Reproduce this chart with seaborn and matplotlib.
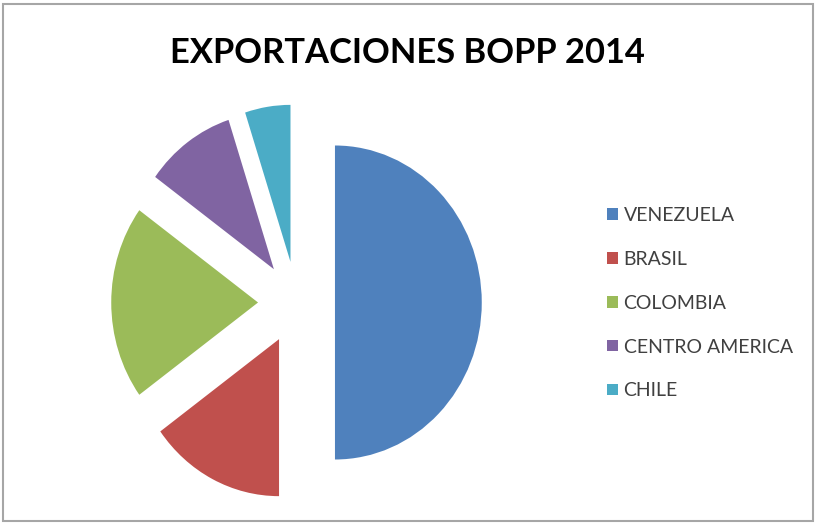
import matplotlib
matplotlib.use("Agg")
import matplotlib.pyplot as plt
import seaborn as sns
from matplotlib.patches import Rectangle

categories = ["VENEZUELA", "BRASIL", "COLOMBIA", "CENTRO AMERICA", "CHILE"]
values = [50, 15, 20, 10, 5]
colors = ["#4F81BD", "#C0504D", "#9BBB59", "#8064A2", "#4BACC6"]
title = "EXPORTACIONES BOPP 2014"

sns.set_theme(style="white")
plt.rcParams["font.family"] = ["Lato", "DejaVu Sans"]

W, H = 816, 525
fig = plt.figure(figsize=(W / 100, H / 100), dpi=100)
fig.patch.set_facecolor("white")

ax = fig.add_axes([0, 0, 1, 1])
xscale = 0.935
cx_px, cy_px, r = 296.5, 302.5, 157
palette = sns.color_palette(colors)
wedges, _ = ax.pie(values, colors=palette, startangle=90, counterclock=False,
                   explode=[0.262 * r] * len(values), radius=r,
                   center=(cx_px / xscale, H - cy_px),
                   wedgeprops=dict(linewidth=0))
ax.set_aspect("auto")
ax.set_xlim(0, W / xscale)
ax.set_ylim(0, H)
ax.axis("off")

fig.text(407.5 / W, 1 - 63 / H, title, ha="center", va="baseline",
         fontsize=24.8, fontweight="bold", color="black")

leg = fig.legend(wedges, categories, loc="upper left",
                 bbox_to_anchor=(607 / W, 1 - 207 / H), frameon=False,
                 fontsize=14, handlelength=0.55, handleheight=0.55,
                 handletextpad=0.3, labelspacing=1.38, borderpad=0,
                 borderaxespad=0)
for t in leg.get_texts():
    t.set_color("#404040")

fig.patches.append(Rectangle((3 / W, 1 - 521 / H), 810 / W, 517 / H,
                             transform=fig.transFigure, fill=False,
                             edgecolor="#a6a6a6", linewidth=1.5))

fig.savefig("out.png", dpi=100)
